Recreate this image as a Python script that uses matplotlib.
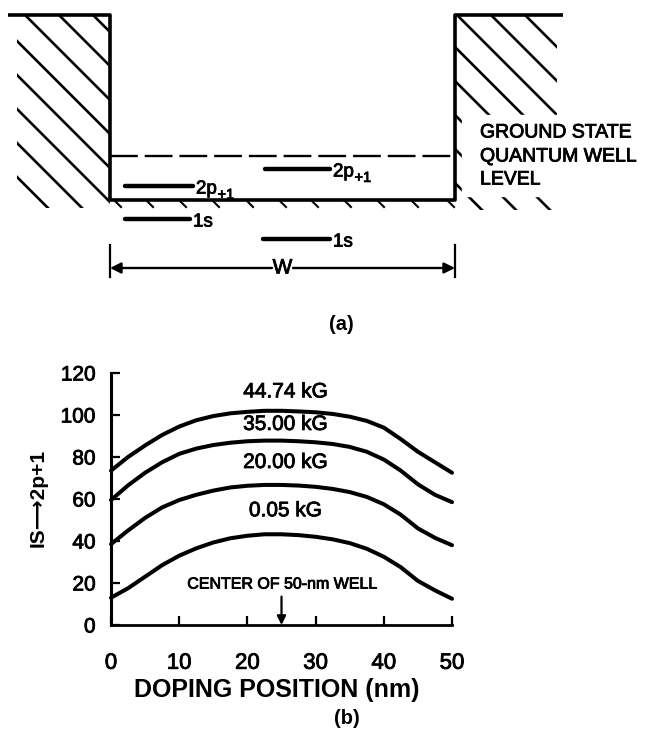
import matplotlib
matplotlib.use("Agg")
import matplotlib.pyplot as plt
import matplotlib.patheffects as pe
from matplotlib.patches import Rectangle

plt.rcParams["font.family"] = ["Liberation Sans", "DejaVu Sans"]
plt.rcParams["lines.scale_dashes"] = False

# ---- panel (b): transition energy vs doping position ----
doping_nm = [0, 2.5, 5, 7.5, 10, 12.5, 15, 17.5, 20, 22.5, 25,
             27.5, 30, 32.5, 35, 37.5, 40, 42.5, 45, 47.5, 50]
field_44_74 = [73.5, 80, 85.5, 90.5, 94.5, 97.5, 99.5, 100.8, 101.5, 102, 102,
               101.7, 101.3, 100.5, 99.2, 97.2, 94, 88.5, 82.5, 77.5, 72.5]
field_35_00 = [59.5, 66.5, 72.5, 77.5, 81.5, 84, 85.7, 86.8, 87.5, 87.8, 87.8,
               87.5, 87, 86.2, 84.8, 82.5, 78.8, 73.5, 67, 62, 58.5]
field_20_00 = [38.5, 45, 51, 56, 59.5, 62, 64, 65.5, 66.3, 66.7, 66.7,
               66.4, 65.8, 64.8, 63.3, 61, 57.5, 52.5, 46, 41.5, 38]
field_0_05 = [13, 17.5, 23, 28.5, 33, 36.5, 39.3, 41.3, 42.5, 43.2, 43.2,
              42.8, 42, 40.8, 39, 36.3, 32.5, 27.5, 21, 16.5, 12.5]
field_labels = ["44.74 kG", "35.00 kG", "20.00 kG", "0.05 kG"]
label_y = [111, 95.5, 77.4, 54.4]
label_x = 25.6
x_ticks = [0, 10, 20, 30, 40, 50]
y_ticks = [0, 20, 40, 60, 80, 100, 120]
well_center_nm = 25

# ---- panel (a): well schematic, drawn in pixel units ----
well_left, well_right = 110, 455
well_top, well_floor = 15, 200
ground_level_y = 156
left_block = (17, 15, 110, 208)
right_block = (455, 15, 557, 210)
left_hatch_offsets = [-78, -44, -10, 24, 58, 92, 126, 160]
right_hatch_offsets = [-510, -476, -442, -408, -374, -340, -306, -272]
floor_ticks_x = [115, 147, 180, 213, 247, 280, 312, 345, 378, 412, 448]
# (x start, x end, y, state, subscript)
levels = [
    (125, 193, 186, "2p", "+1"),
    (265, 330, 169, "2p", "+1"),
    (125, 190, 219, "1s", ""),
    (263, 330, 239, "1s", ""),
]
legend_lines = ["GROUND STATE", "QUANTUM WELL", "LEVEL"]
legend_y = [133, 157, 180]
w_arrow_y = 268

heavy = [pe.withStroke(linewidth=0.6, foreground="k")]


def hatch(ax, box, offsets):
    x0, y0, x1, y1 = box
    clip = Rectangle((x0, y0), x1 - x0, y1 - y0, transform=ax.transData,
                     fill=False, visible=False)
    for c in offsets:
        line, = ax.plot([x0 - 300, x1 + 300], [x0 - 300 + c, x1 + 300 + c],
                        color="k", lw=1.9, solid_capstyle="butt", zorder=2)
        line.set_clip_path(clip)


fig = plt.figure(figsize=(6.48, 7.32), dpi=100)

ax_a = fig.add_axes([0, 1 - 340 / 732, 1, 340 / 732])
ax_a.set_xlim(0, 648)
ax_a.set_ylim(340, 0)
ax_a.axis("off")

hatch(ax_a, left_block, left_hatch_offsets)
hatch(ax_a, right_block, right_hatch_offsets)
ax_a.add_patch(Rectangle((462, 115), 186, 81, color="white", zorder=3))

wall_kw = dict(color="k", lw=2.6, zorder=5, solid_capstyle="butt")
ax_a.plot([8, well_left, well_left, well_right, well_right, 563],
          [well_top, well_top, well_floor, well_floor, well_top, well_top], **wall_kw)
for x in floor_ticks_x:
    ax_a.plot([x, x + 6], [well_floor + 1, well_floor + 7], color="k", lw=1.5, zorder=4)

ax_a.plot([well_left, well_right], [ground_level_y, ground_level_y],
          color="k", lw=1.7, dashes=(20, 5), zorder=4)

for x0, x1, y, state, sub in levels:
    ax_a.plot([x0, x1], [y, y], color="k", lw=3.2, solid_capstyle="round", zorder=4)
    t = ax_a.text(x1 + 3, y + 7.5, state, ha="left", va="baseline", fontsize=13.5,
                  zorder=6, path_effects=heavy)
    if sub:
        ax_a.annotate(sub, xy=(1, 0), xycoords=t, xytext=(0.5, -1),
                      textcoords="offset points", ha="left", va="baseline",
                      fontsize=10.5, zorder=6, path_effects=heavy)

for txt, y in zip(legend_lines, legend_y):
    ax_a.text(480, y, txt, ha="left", va="center", fontsize=14, zorder=6,
              path_effects=heavy)

arrow_kw = dict(arrowstyle="-|>", lw=1.7, color="k", mutation_scale=16,
                shrinkA=0, shrinkB=0)
ax_a.annotate("", xy=(well_left, w_arrow_y), xytext=(272, w_arrow_y), arrowprops=arrow_kw)
ax_a.annotate("", xy=(well_right, w_arrow_y), xytext=(293, w_arrow_y), arrowprops=arrow_kw)
ax_a.plot([well_left, well_left], [245, 277], color="k", lw=1.6)
ax_a.plot([well_right, well_right], [245, 277], color="k", lw=1.6)
ax_a.text(282.5, w_arrow_y, "W", ha="center", va="center", fontsize=15,
          path_effects=heavy)
ax_a.text(341, 324, "(a)", ha="center", va="center", fontsize=14.5, fontweight="bold")

# ---- panel (b) ----
ax = fig.add_axes([111 / 648, 107 / 732, 341 / 648, 252 / 732])
ax.spines["top"].set_visible(False)
ax.spines["right"].set_visible(False)
ax.spines["left"].set_linewidth(2.2)
ax.spines["bottom"].set_linewidth(2)
ax.set_xlim(0, 50)
ax.set_ylim(0, 120)
ax.set_xticks(x_ticks)
ax.set_yticks(y_ticks)
ax.tick_params(direction="in", length=6.5, width=1.6, labelsize=15)
ax.tick_params(axis="x", pad=20, labelsize=16)
ax.tick_params(axis="y", pad=11)
for lbl in ax.get_xticklabels() + ax.get_yticklabels():
    lbl.set_path_effects(heavy)

for series, lab, ly in zip([field_44_74, field_35_00, field_20_00, field_0_05],
                           field_labels, label_y):
    ax.plot(doping_nm, series, color="k", lw=2.9, clip_on=False,
            solid_capstyle="round")
    ax.text(label_x, ly, lab, ha="center", va="center", fontsize=15,
            path_effects=heavy)

ax.text(25.1, 19.5, "CENTER OF 50-nm WELL", ha="center", va="center",
        fontsize=11.5, path_effects=heavy)
ax.annotate("", xy=(well_center_nm, 0), xytext=(well_center_nm, 13.5),
            arrowprops=dict(arrowstyle="-|>", lw=1.6, color="k",
                            mutation_scale=13, shrinkA=0, shrinkB=0))

ax.set_ylabel("IS⟶2p+1", fontsize=15, fontweight="bold", va="center")
ax.yaxis.set_label_coords(-0.214, 0.504)
ax.set_xlabel("DOPING POSITION (nm)", fontsize=18, fontweight="bold", va="center")
ax.xaxis.set_label_coords(0.487, -0.258)

fig.text(347 / 648, 1 - 719 / 732, "(b)", ha="center", va="center",
         fontsize=14.5, fontweight="bold")

fig.savefig("out.png", dpi=100)
